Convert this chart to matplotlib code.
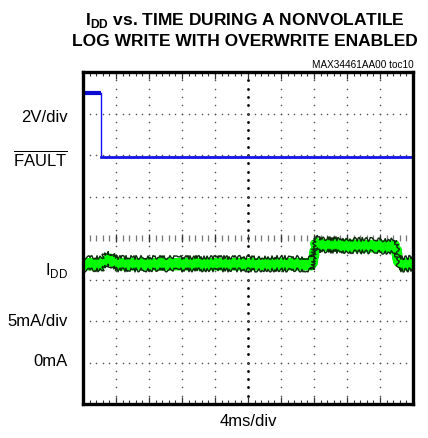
import numpy as np
import matplotlib
matplotlib.use("Agg")
import matplotlib.pyplot as plt

plt.rcParams['font.family'] = ['Liberation Sans', 'DejaVu Sans']
plt.rcParams['mathtext.fontset'] = 'custom'
plt.rcParams['mathtext.rm'] = 'Liberation Sans'
plt.rcParams['mathtext.bf'] = 'Liberation Sans:bold'

# FAULT channel (V), 2V/div, 0V reference at division 6
fault_t = [0, 2.2, 2.2, 40]
fault_v = [3.0, 3.0, -0.1, -0.1]
# IDD channel (mA), 5mA/div, 0mA at division 1
idd_t = [0, 2.3, 2.9, 3.4, 4.0, 27.8, 28.2, 28.6, 33.0, 37.9, 38.3, 40]
idd_ma = [11.9, 11.9, 12.5, 12.4, 11.9, 11.9, 14.4, 14.2, 14.1, 14.0, 11.9, 11.9]
idd_halfwidth = 0.75

ms_per_div = 4
v_per_div = 2
ma_per_div = 5

fig = plt.figure(figsize=(4.28, 4.39), dpi=100)
ax = fig.add_axes([83/428, 1-405/439, 330/428, 332/439])
ax.set_xlim(0, 10)
ax.set_ylim(0, 8)

# grid dots
for k in range(1, 10):
    ys = np.arange(0, 8.001, 0.2)
    if k == 5:
        ax.scatter(np.full_like(ys, k), ys, s=4, color='black', lw=0, zorder=1)
    else:
        ax.scatter(np.full_like(ys, k), ys, s=1.3, color='#555555', lw=0, zorder=1)
for k in range(1, 8):
    xs = np.arange(0, 10.001, 0.2)
    if k == 4:
        ax.scatter(xs, np.full_like(xs, k), s=14, marker='|', color='#777777', lw=0.9, zorder=1)
        xm = np.arange(0, 10.001, 1.0)
        ax.scatter(xm, np.full_like(xm, k), s=40, marker='|', color='#333333', lw=0.9, zorder=1)
    else:
        ax.scatter(xs, np.full_like(xs, k), s=1.3, color='#555555', lw=0, zorder=1)

# traces
ft = np.array(fault_t) / ms_per_div
fy = 6 + np.array(fault_v) / v_per_div
ax.plot(ft[:2], fy[:2], color='#0a0ad0', lw=3.0, solid_capstyle='butt', zorder=3)
ax.plot(ft[1:], fy[1:], color='#1010ff', lw=1.0, zorder=3)
ax.plot(ft[2:], fy[2:], color='#1515e8', lw=2.0, zorder=3)

it = np.array(idd_t) / ms_per_div
iy = 1 + np.array(idd_ma) / ma_per_div
hw = idd_halfwidth / ma_per_div
ax.fill_between(it, iy - hw, iy + hw, color='#00ff00', lw=0, zorder=2)
for sgn in (-1, 1):
    ln, = ax.plot(it, iy + sgn * hw, color='#0a2a0a', lw=1.0, zorder=3)
    ln.set_sketch_params(scale=2.0, length=1.5, randomness=6)
mid, = ax.plot(it, iy, color='#00ff00', lw=6, zorder=2.5)
mid.set_sketch_params(scale=1.5, length=2, randomness=6)

ax.set_xticks(np.arange(0, 10.01, 1))
ax.set_xticks(np.arange(0, 10.01, 0.2), minor=True)
ax.tick_params(axis='x', which='major', direction='in', top=True, bottom=True,
               length=5, width=0.9, color='#333333', labelbottom=False)
ax.tick_params(axis='x', which='minor', direction='in', top=True, bottom=True,
               length=3, width=0.8, color='#333333')
ax.set_yticks([])
for s in ax.spines.values():
    s.set_linewidth(2.4)
    s.set_zorder(5)

# labels
fig.text(245/428, 1-21/439, r"I$_\mathbf{DD}$ vs. TIME DURING A NONVOLATILE",
         ha='center', va='center', fontsize=12.5, fontweight='bold')
fig.text(245/428, 1-41/439, "LOG WRITE WITH OVERWRITE ENABLED",
         ha='center', va='center', fontsize=12.5, fontweight='bold')
fig.text(414/428, 1-65/439, "MAX34461AA00 toc10", ha='right', va='center', fontsize=7.2)

lx = 68/428
fig.text(lx, 1-117/439, "2V/div", ha='right', va='center', fontsize=12)
fig.text(lx, 1-159/439, r"$\overline{\mathrm{FAULT}}$", ha='right', va='center', fontsize=12)
fig.text(lx, 1-270/439, r"I$_\mathrm{DD}$", ha='right', va='center', fontsize=12)
fig.text(lx, 1-322/439, "5mA/div", ha='right', va='center', fontsize=12)
fig.text(lx, 1-362/439, "0mA", ha='right', va='center', fontsize=12)
fig.text(248/428, 1-422/439, "4ms/div", ha='center', va='center', fontsize=12)

fig.savefig("out.png", dpi=100)
